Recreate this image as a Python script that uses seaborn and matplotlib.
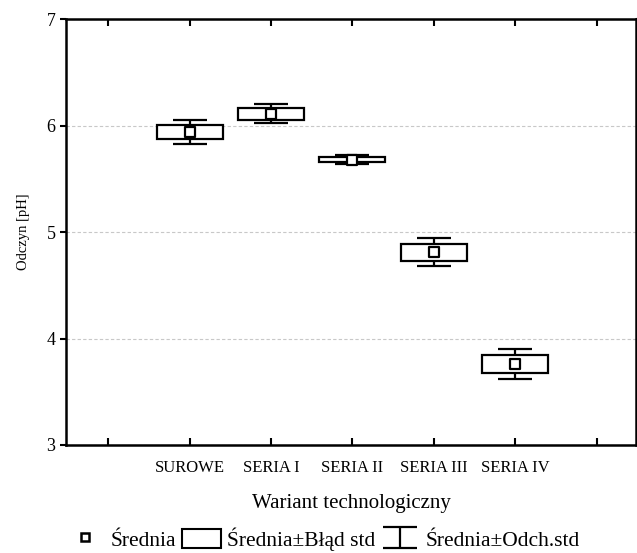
# Odczyn pH wg wariantu technologicznego (średnia, błąd std, odch. std)
import seaborn as sns
import matplotlib.pyplot as plt
import pandas as pd
import numpy as np
from matplotlib.patches import Patch
from matplotlib.lines import Line2D

sns.set_style("ticks")
plt.rcParams['font.family'] = ['Liberation Serif', 'DejaVu Serif']
for k in ['text.color', 'axes.labelcolor', 'xtick.color', 'ytick.color']:
    plt.rcParams[k] = 'black'

warianty = ['SUROWE', 'SERIA I', 'SERIA II', 'SERIA III', 'SERIA IV']
srednia = [5.94, 6.11, 5.68, 4.81, 3.76]
blad_std = [0.065, 0.056, 0.024, 0.080, 0.086]
odch_std = [0.110, 0.091, 0.040, 0.131, 0.142]

df = pd.DataFrame({'wariant': warianty, 'srednia': srednia,
                   'se': blad_std, 'sd': odch_std})
df['pos'] = np.arange(len(df))

fig = plt.figure(figsize=(6.37, 5.53), dpi=100)
ax = fig.add_axes([0.1036, 0.1953, 0.8955, 0.7703])

lw = 1.6
# wąsy: średnia +- odch. std
eb = ax.errorbar(df['pos'], df['srednia'], yerr=df['sd'], fmt='none',
                 ecolor='black', elinewidth=lw, capsize=12, capthick=lw, zorder=2)
# pudełka: średnia +- błąd std
ax.bar(df['pos'], 2 * df['se'], bottom=df['srednia'] - df['se'], width=0.81,
       color='white', edgecolor='black', linewidth=lw, zorder=3)
# średnie
sns.scatterplot(data=df, x='pos', y='srednia', marker='s', s=60, color='white',
                edgecolor='black', linewidth=lw, zorder=4, ax=ax, legend=False)

ax.set_xlim(-1.52, 5.49)
ax.set_ylim(3, 7)
ax.set_xticks(np.arange(-1, 6))
ax.set_xticklabels([''] + warianty + [''], fontsize=12)
ax.set_yticks([3, 4, 5, 6, 7])
ax.tick_params(axis='y', labelsize=13, direction='out', length=4, width=1.5,
               right=True)
ax.tick_params(axis='x', direction='in', length=5, width=1.5, top=True, pad=11)
ax.yaxis.grid(True, linestyle=(0, (3, 2)), color='#c8c8c8', linewidth=0.8)
for s in ax.spines.values():
    s.set_linewidth(1.8)
    s.set_color('black')

ax.set_xlabel('Wariant technologiczny', fontsize=15, labelpad=13)
ax.set_ylabel('Odczyn [pH]', fontsize=10.5, labelpad=12)

h_mean = Line2D([], [], marker='s', linestyle='none', markersize=6,
                markerfacecolor='white', markeredgecolor='black', markeredgewidth=1.8)
h_box = Patch(facecolor='white', edgecolor='black', linewidth=1.5)
fig.legend([h_mean, h_box, eb],
           ['Średnia', 'Średnia±Błąd std', 'Średnia±Odch.std'],
           loc='center', bbox_to_anchor=(0.507, 0.025), ncol=3, frameon=False,
           fontsize=15.5, handlelength=1.8, handleheight=1.0, handletextpad=0.3,
           columnspacing=0.25)

plt.savefig('out.png', dpi=100)
